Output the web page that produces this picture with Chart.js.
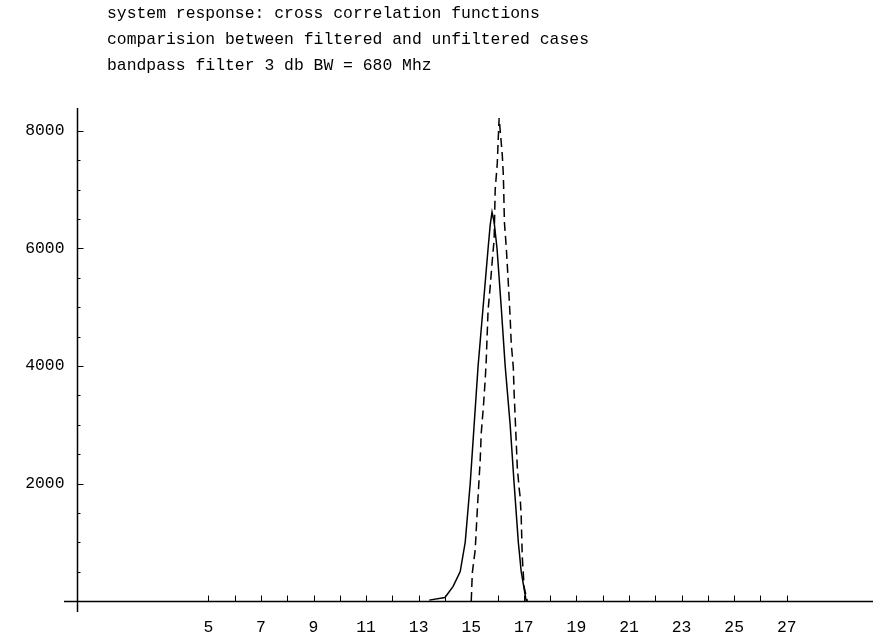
<!DOCTYPE html>
<html>
<head>
<meta charset="utf-8">
<script src="https://cdn.jsdelivr.net/npm/chart.js@4.4.0/dist/chart.umd.min.js"></script>
<style>
    html, body { margin: 0; padding: 0; background: #fff; }
    #wrap { width: 873px; height: 637px; position: relative; }
</style>
</head>
<body>
<div id="wrap"><canvas id="xcorrGraph"></canvas></div>
<script>
(function () {
    // タイトル
    const titleLines = [
        'system response: cross correlation functions',
        'comparision between filtered and unfiltered cases',
        'bandpass filter 3 db BW = 680 Mhz'
    ];

    // filtered (solid)
    const filteredX = [13.4, 14.0, 14.31, 14.58, 14.77, 14.96, 15.11, 15.26, 15.45, 15.64, 15.72, 15.79, 15.87,
        15.98, 16.14, 16.29, 16.48, 16.63, 16.79, 16.90, 17.09];
    const filteredY = [15, 60, 250, 500, 1000, 2000, 3000, 4000, 5000, 6000, 6400, 6620, 6450,
        6000, 5000, 4000, 3000, 2000, 1000, 500, 0];

    // unfiltered (dashed)
    const unfilteredX = [15.0, 15.04, 15.15, 15.23, 15.34, 15.38, 15.46, 15.53, 15.57, 15.64, 15.72, 15.80, 15.87, 15.91,
        15.99, 16.02, 16.06, 16.18, 16.22, 16.24, 16.26, 16.33, 16.41, 16.48, 16.52, 16.60, 16.63, 16.67, 16.71,
        16.75, 16.82, 16.86, 16.90, 16.94, 17.01, 17.13];
    const unfilteredY = [0, 480, 870, 1550, 2400, 2860, 3300, 3760, 4100, 4950, 5350, 5800, 6150, 7000,
        7450, 7800, 8220, 7590, 7250, 6880, 6450, 6030, 5410, 4820, 4390, 3970, 3540, 3130, 2710,
        2280, 1920, 1770, 1430, 750, 240, 0];

    // 目盛り
    const xTicks = [5, 6, 7, 8, 9, 10, 11, 12, 13, 14, 15, 16, 17, 18, 19, 20, 21, 22, 23, 24, 25, 26, 27];
    const xLabels = [5, 7, 9, 11, 13, 15, 17, 19, 21, 23, 25, 27];
    const yMajor = [2000, 4000, 6000, 8000];
    const yMinor = [500, 1000, 1500, 2500, 3000, 3500, 4500, 5000, 5500, 6500, 7000, 7500];

    const toPoints = (xs, ys) => xs.map((v, i) => ({ x: v, y: ys[i] }));
    const FONT = '16.4px "Liberation Mono", "DejaVu Sans Mono", monospace';

    // Mathematica風の軸を描く
    const axesPlugin = {
        id: 'axesPlugin',
        beforeDatasetsDraw(chart) {
            const { ctx, chartArea, scales } = chart;
            const x0 = Math.round(scales.x.getPixelForValue(0)) + 0.5;
            const y0 = Math.round(scales.y.getPixelForValue(0)) + 0.5;
            ctx.save();
            ctx.strokeStyle = '#000';
            ctx.lineWidth = 1.5;
            ctx.beginPath();
            ctx.moveTo(chartArea.left, y0);
            ctx.lineTo(chartArea.right, y0);
            ctx.moveTo(x0, chartArea.top);
            ctx.lineTo(x0, chartArea.bottom);
            ctx.stroke();

            ctx.lineWidth = 1;
            ctx.beginPath();
            xTicks.forEach(v => {
                const px = Math.round(scales.x.getPixelForValue(v)) + 0.5;
                ctx.moveTo(px, y0);
                ctx.lineTo(px, y0 - 6);
            });
            yMajor.forEach(v => {
                const py = Math.round(scales.y.getPixelForValue(v)) + 0.5;
                ctx.moveTo(x0, py);
                ctx.lineTo(x0 + 6, py);
            });
            yMinor.forEach(v => {
                const py = Math.round(scales.y.getPixelForValue(v)) + 0.5;
                ctx.moveTo(x0, py);
                ctx.lineTo(x0 + 3, py);
            });
            ctx.stroke();

            ctx.fillStyle = '#000';
            ctx.font = FONT;
            ctx.textAlign = 'center';
            ctx.textBaseline = 'middle';
            xLabels.forEach(v => {
                ctx.fillText(String(v), scales.x.getPixelForValue(v), y0 + 26);
            });
            ctx.textAlign = 'right';
            yMajor.forEach(v => {
                ctx.fillText(String(v), x0 - 13, scales.y.getPixelForValue(v));
            });

            ctx.textAlign = 'left';
            titleLines.forEach((t, i) => {
                ctx.fillText(t, 107, 14 + i * 26);
            });
            ctx.restore();
        }
    };

    const ctx = document.getElementById('xcorrGraph').getContext('2d');
    new Chart(ctx, {
        type: 'scatter',
        data: {
            datasets: [
                {
                    label: 'filtered',
                    data: toPoints(filteredX, filteredY),
                    showLine: true,
                    borderColor: '#000',
                    borderWidth: 1.5,
                    pointRadius: 0,
                    tension: 0
                },
                {
                    label: 'unfiltered',
                    data: toPoints(unfilteredX, unfilteredY),
                    showLine: true,
                    borderColor: '#000',
                    borderWidth: 1.5,
                    borderDash: [9, 5],
                    pointRadius: 0,
                    tension: 0
                }
            ]
        },
        options: {
            responsive: true,
            maintainAspectRatio: false,
            animation: false,
            layout: { padding: { left: 64, right: 0, top: 108, bottom: 25 } },
            plugins: {
                legend: { display: false },
                title: { display: false },
                tooltip: { enabled: false }
            },
            scales: {
                x: { type: 'linear', min: -0.49, max: 30.28, display: false },
                y: { type: 'linear', min: -187, max: 8391, display: false }
            }
        },
        plugins: [axesPlugin]
    });
})();
</script>
</body>
</html>
